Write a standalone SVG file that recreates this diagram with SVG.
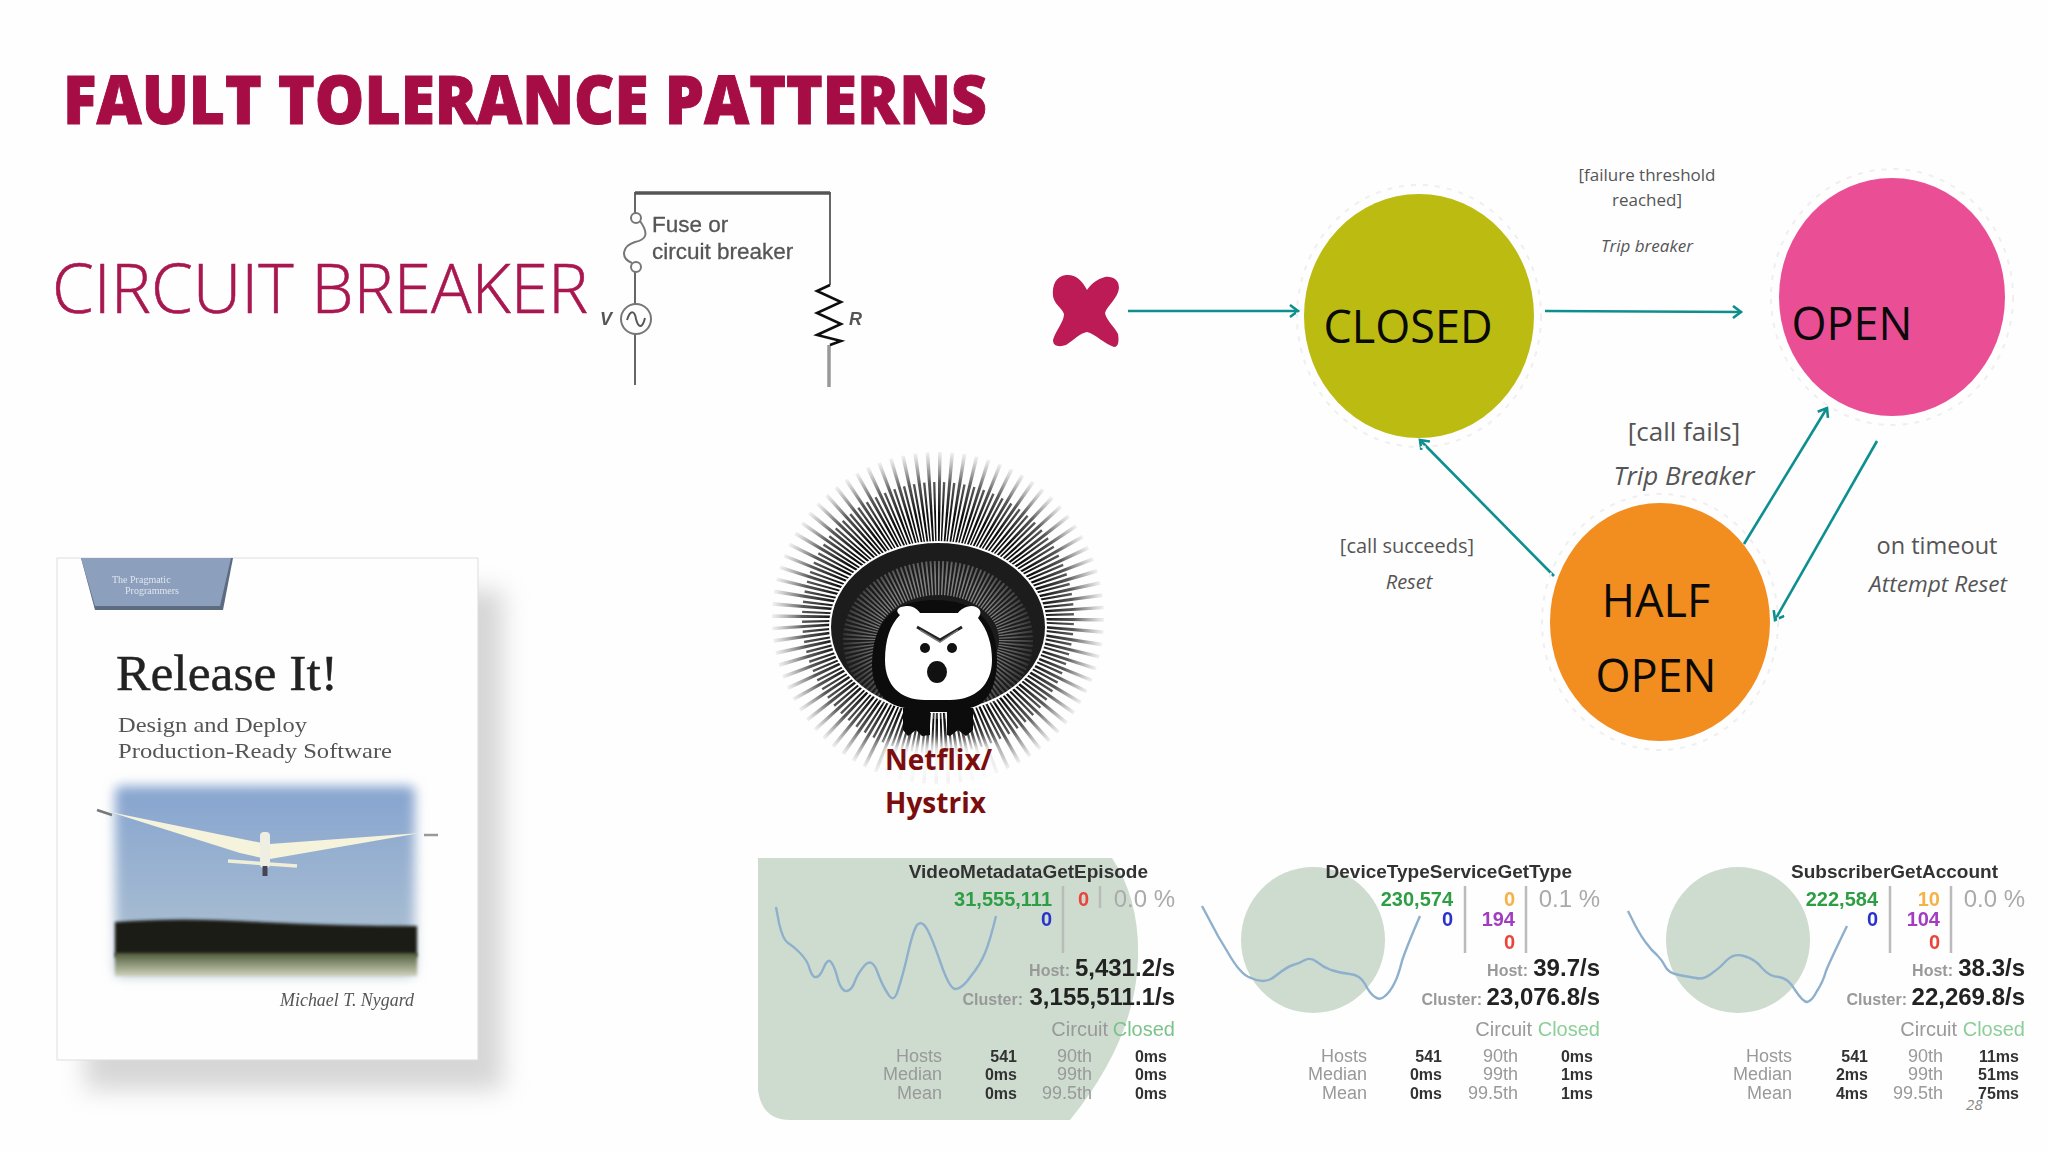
<svg xmlns="http://www.w3.org/2000/svg" width="2048" height="1152" viewBox="0 0 2048 1152">
<style>
text{font-family:"Open Sans","Noto Sans",sans-serif}
.lbl{fill:#555;text-anchor:middle}
.it{font-style:italic}
.st{fill:#0a0a0a;font-size:45px;text-anchor:middle}
.halo{fill:none;stroke:#efefef;stroke-width:2;stroke-dasharray:5 7}
.conn{fill:none;stroke:#0e8f8f;stroke-width:2.6;marker-end:url(#arr)}
.dash text{font-family:"Liberation Sans",Arial,sans-serif;text-anchor:end}
.t{font-size:19px;font-weight:700;fill:#333}
.n{font-size:20px;font-weight:700}
.pct{font-size:24px;fill:#aaa}
.k{font-size:16px;font-weight:700;fill:#999}
.v{font-size:24px;font-weight:700;fill:#222}
.c{font-size:20px;fill:#999}
.h{font-size:18px;fill:#999}
.b{font-size:16px;font-weight:700;fill:#333}
.bar{stroke:#bbb;stroke-width:2.5}
.spark{fill:none;stroke:#8fb0cc;stroke-width:2.4;stroke-linejoin:round}
.book text{font-family:"Liberation Serif","Times New Roman",serif}
.cir{font-family:"Liberation Sans",sans-serif}
</style>
<defs>
<marker id="arr" markerUnits="userSpaceOnUse" markerWidth="16" markerHeight="16" refX="11" refY="7" orient="auto"><path d="M3,1 L11,7 L3,13" fill="none" stroke="#0e8f8f" stroke-width="2.6"/></marker>
<filter id="b05" x="-5%" y="-5%" width="110%" height="110%"><feGaussianBlur stdDeviation="0.7"/></filter>
<filter id="b1" x="-5%" y="-20%" width="110%" height="140%"><feGaussianBlur stdDeviation="1.6"/></filter>
<filter id="b7" x="-10%" y="-10%" width="120%" height="120%"><feGaussianBlur stdDeviation="6"/></filter>
<filter id="b12" x="-15%" y="-15%" width="130%" height="130%"><feGaussianBlur stdDeviation="12"/></filter>
<filter id="bw" x="-30%" y="-60%" width="160%" height="220%"><feGaussianBlur stdDeviation="6"/></filter>
<filter id="bh" filterUnits="userSpaceOnUse" x="740" y="420" width="400" height="400"><feGaussianBlur stdDeviation="0.45"/></filter>
<linearGradient id="sky" x1="0" y1="0" x2="0" y2="1"><stop offset="0" stop-color="#86a4cf"/><stop offset="1" stop-color="#b2c4d2"/></linearGradient>
<linearGradient id="grass" x1="0" y1="0" x2="0" y2="1"><stop offset="0" stop-color="#4f5a3a"/><stop offset="1" stop-color="#cdd2ba"/></linearGradient>
<radialGradient id="spk" gradientUnits="userSpaceOnUse" cx="938" cy="618" r="170"><stop offset="0.62" stop-color="#111"/><stop offset="0.8" stop-color="#333" stop-opacity=".8"/><stop offset="1" stop-color="#777" stop-opacity="0"/></radialGradient>
<radialGradient id="inner" gradientUnits="userSpaceOnUse" cx="938" cy="635" r="105"><stop offset="0.55" stop-color="#fff" stop-opacity=".45"/><stop offset="1" stop-color="#fff" stop-opacity="0"/></radialGradient>
</defs>
<rect width="2048" height="1152" fill="#fefefe"/>

<text id="title" x="63" y="124" font-size="68" font-weight="800" fill="#a60d45" stroke="#a60d45" stroke-width="1" textLength="924" lengthAdjust="spacingAndGlyphs">FAULT TOLERANCE PATTERNS</text>
<text id="subtitle" x="52" y="313" font-size="69" font-weight="300" fill="#a8174f" stroke="#a8174f" stroke-width=".6" textLength="536" lengthAdjust="spacingAndGlyphs">CIRCUIT BREAKER</text>

<g id="circuit" filter="url(#b05)">
<path d="M635,385 V334 M635,304 V272 M635,213 V193 H830 V285" fill="none" stroke="#666" stroke-width="2"/>
<path d="M635,193 H830" fill="none" stroke="#555" stroke-width="3.5"/>
<path d="M829,345 V387" fill="none" stroke="#999" stroke-width="3.5"/>
<circle cx="636" cy="218" r="5" fill="none" stroke="#777" stroke-width="2"/>
<circle cx="636" cy="267" r="5" fill="none" stroke="#777" stroke-width="2"/>
<path d="M640,221 C650,235 645,240 635,242 C622,246 620,258 632,263" fill="none" stroke="#777" stroke-width="2"/>
<ellipse cx="636" cy="319" rx="15" ry="15" fill="none" stroke="#777" stroke-width="2"/>
<path d="M627,320 C631,308 635,312 636,319 C638,327 642,330 645,318" fill="none" stroke="#555" stroke-width="2"/>
<path d="M830,285 L817,291 L841,302 L817,313 L841,324 L817,335 L841,341 L830,345" fill="none" stroke="#111" stroke-width="2.6"/>
<text class="cir" x="652" y="232" font-size="22.5" fill="#555" stroke="#555" stroke-width=".3">Fuse or</text>
<text class="cir" x="652" y="259" font-size="22.5" fill="#555" stroke="#555" stroke-width=".3">circuit breaker</text>
<text class="cir" x="600" y="325" font-size="18" fill="#555" font-style="italic" font-weight="700">V</text>
<text class="cir" x="849" y="325" font-size="18" fill="#555" font-style="italic" font-weight="700">R</text>
</g>

<path id="break-mark" fill="#bc1b55" d="M1087,290 C1082,280 1075,274 1066,275 C1056,276 1052,285 1053,296 C1054,304 1062,308 1064,314 C1064,322 1056,330 1053,340 C1053,347 1060,347 1066,345 C1074,340 1080,333 1087,332 C1095,334 1105,344 1114,347 C1119,347 1119,340 1118,334 C1114,326 1106,320 1105,313 C1107,306 1118,298 1119,288 C1119,279 1112,276 1105,277 C1097,279 1091,284 1087,290 Z"/>

<g id="connectors">
<path class="conn" d="M1128,311 H1298"/>
<path class="conn" d="M1545,311 L1741,312"/>
<path class="conn" d="M1744,544 L1827,408"/>
<path class="conn" d="M1877,441 L1775,620"/>
<path class="conn" d="M1554,576 L1420,440"/>
</g>

<g id="closed">
<ellipse class="halo" cx="1419" cy="316" rx="122" ry="131"/>
<ellipse cx="1419" cy="316" rx="115" ry="122" fill="#bcbb12"/>
<text class="st" x="1408" y="343">CLOSED</text>
</g>
<g id="open">
<ellipse class="halo" cx="1892" cy="297" rx="121" ry="128"/>
<ellipse cx="1892" cy="297" rx="113" ry="119" fill="#ea4f96"/>
<text class="st" x="1852" y="340">OPEN</text>
</g>
<g id="half-open">
<ellipse class="halo" cx="1660" cy="622" rx="118" ry="128"/>
<ellipse cx="1660" cy="622" rx="110" ry="119" fill="#f28d1f"/>
<text class="st" x="1656" y="617">HALF</text>
<text class="st" x="1656" y="692">OPEN</text>
</g>

<g id="labels">
<text class="lbl" x="1647" y="181" font-size="17">[failure threshold</text>
<text class="lbl" x="1647" y="206" font-size="17">reached]</text>
<text class="lbl it" x="1647" y="252" font-size="17">Trip breaker</text>
<text class="lbl" x="1684" y="441" font-size="26">[call fails]</text>
<text class="lbl it" x="1684" y="485" font-size="26">Trip Breaker</text>
<text class="lbl" x="1407" y="553" font-size="20">[call succeeds]</text>
<text class="lbl it" x="1409" y="589" font-size="20">Reset</text>
<text class="lbl" x="1937" y="554" font-size="23.5">on timeout</text>
<text class="lbl it" x="1938" y="592" font-size="22.7">Attempt Reset</text>
</g>

<g id="book" class="book">
<rect x="85" y="590" width="418" height="500" fill="#bbb" opacity=".6" filter="url(#b12)"/>
<rect x="57" y="558" width="421" height="502" fill="#fefefe" stroke="#ddd" stroke-width="1"/>
<path d="M81,558 H233 L223,610 H95 Z" fill="#5c6b80"/>
<path d="M81,558 H231 L220,606 H95 Z" fill="#8c9fbc" filter="url(#b05)"/>
<g filter="url(#b05)" fill="#dfe5ee">
<text x="112" y="583" font-size="10">The Pragmatic</text>
<text x="125" y="594" font-size="10">Programmers</text>
</g>
<g filter="url(#b05)">
<text x="116" y="690" font-size="51" fill="#222" stroke="#222" stroke-width=".4" textLength="222" lengthAdjust="spacingAndGlyphs">Release It!</text>
<text x="118" y="732" font-size="22" fill="#555" textLength="189" lengthAdjust="spacingAndGlyphs">Design and Deploy</text>
<text x="118" y="758" font-size="22" fill="#555" textLength="274" lengthAdjust="spacingAndGlyphs">Production-Ready Software</text>
<text x="280" y="1006" font-size="18" font-style="italic" fill="#555" textLength="134" lengthAdjust="spacingAndGlyphs">Michael T. Nygard</text>
</g>
<g id="photo">
<rect x="115" y="786" width="300" height="190" rx="6" fill="url(#sky)" filter="url(#b7)"/>
<path d="M115,922 Q180,917 260,922 Q340,926 417,926 V957 H115 Z" fill="#1b1e18" filter="url(#b1)"/>
<rect x="115" y="953" width="302" height="23" fill="url(#grass)" filter="url(#b1)"/>
<g filter="url(#b05)">
<path d="M110,812 L262,843 L262,858 L240,853 Z" fill="#f5f3dc"/>
<path d="M270,844 L420,833 L270,859 Z" fill="#f5f3dc"/>
<path d="M97,810 L112,815" stroke="#777" stroke-width="2.5"/>
<path d="M424,835 L438,835" stroke="#999" stroke-width="2.5"/>
<path d="M228,861 L297,866" stroke="#f0eed8" stroke-width="3.5"/>
<rect x="260" y="832" width="10" height="36" rx="4" fill="#efeee2"/>
<path d="M265,866 V876" stroke="#445" stroke-width="5"/>
</g>
</g>
</g>

<g id="hystrix">
<g filter="url(#bh)">
<circle cx="938" cy="618" r="120" fill="none" stroke="url(#spk)" stroke-width="92" pathLength="84" stroke-dasharray=".3 .7"/>
<circle cx="938" cy="618" r="105" fill="none" stroke="url(#spk)" stroke-width="62" pathLength="84" stroke-dasharray=".24 .76" stroke-dashoffset=".5"/>
</g>
<rect x="880" y="742" width="118" height="40" fill="#fefefe" opacity=".92" filter="url(#bw)"/>
<g filter="url(#bh)">
<ellipse cx="938" cy="627" rx="108" ry="85" fill="#1e1e1e" stroke="#fff" stroke-width="2"/>
<ellipse cx="938" cy="640" rx="78" ry="62" fill="none" stroke="url(#inner)" stroke-width="34" pathLength="120" stroke-dasharray=".45 .55"/>
</g>
<path d="M872,665 C872,620 895,600 935,600 C975,600 997,620 997,660 C997,690 985,705 970,708 H905 C885,705 872,690 872,665 Z" fill="#0c0c0c"/>
<path d="M903,708 H973 L973,730 L966,736 L958,730 L950,736 L947,735 V712 H930 V735 L922,736 L916,730 L908,736 L903,730 Z" fill="#0c0c0c"/>
<path d="M900,615 C894,610 899,606 908,606 C914,606 918,610 920,613 H958 C960,610 965,606 972,606 C980,607 983,612 978,618 C988,630 992,645 992,660 C992,685 975,700 950,700 H925 C900,700 885,685 885,660 C885,640 890,625 900,615 Z" fill="#fff"/>
<path d="M917,627 L940,640 L962,627" fill="none" stroke="#222" stroke-width="3"/>
<path d="M920,630 L940,642 L958,630" fill="none" stroke="#777" stroke-width="1.5"/>
<circle cx="925" cy="648" r="5" fill="#111"/>
<circle cx="952" cy="648" r="5" fill="#111"/>
<ellipse cx="937" cy="672" rx="10" ry="11" fill="#111"/>
<g font-size="28" font-weight="700" fill="#7b0d0d">
<text x="885" y="770">Netflix/</text>
<text x="885" y="813">Hystrix</text>
</g>
</g>

<g id="dash-1" class="dash">
<path d="M758,858 L1112,858 Q1140,900 1138,960 Q1135,1040 1070,1120 L790,1120 Q762,1120 758,1090 Z" fill="#cddccf"/>
<g filter="url(#b05)">
<path class="spark" d="M776,907 L779,923 Q783,940 788,943 Q793,946 800,953 Q808,961 810,970 Q813,978 816,977 Q820,977 824,967 Q828,958 831,962 Q835,967 838,980 Q842,992 847,991 Q852,990 855,981 Q858,973 865,965 Q872,958 877,971 Q882,985 888,994 Q894,1004 898,990 Q903,975 908,953 Q913,931 917,925 Q922,920 927,929 Q932,938 941,964 Q950,990 956,989 Q963,988 971,976 Q980,965 985,953 Q990,941 996,916"/>
<text class="t" x="1148" y="878">VideoMetadataGetEpisode</text>
<text class="n" x="1052" y="906" fill="#2f9e44">31,555,111</text>
<text class="n" x="1052" y="926" fill="#2c33cc" font-size="16">0</text>
<line class="bar" x1="1063" y1="886" x2="1063" y2="953"/>
<text class="n" x="1089" y="906" fill="#e8453c">0</text>
<line class="bar" x1="1100" y1="886" x2="1100" y2="908"/>
<text class="pct" x="1175" y="907">0.0 %</text>
<text class="k" x="1070" y="976">Host:</text><text class="v" x="1175" y="976">5,431.2/s</text>
<text class="k" x="1023" y="1005">Cluster:</text><text class="v" x="1175" y="1005">3,155,511.1/s</text>
<text class="c" x="1108" y="1036">Circuit</text><text class="c" x="1175" y="1036" style="fill:#7cc38a">Closed</text>
<text class="h" x="942" y="1062">Hosts</text><text class="h" x="942" y="1080">Median</text><text class="h" x="942" y="1099">Mean</text>
<text class="b" x="1017" y="1062">541</text><text class="b" x="1017" y="1080">0ms</text><text class="b" x="1017" y="1099">0ms</text>
<text class="h" x="1092" y="1062">90th</text><text class="h" x="1092" y="1080">99th</text><text class="h" x="1092" y="1099">99.5th</text>
<text class="b" x="1167" y="1062">0ms</text><text class="b" x="1167" y="1080">0ms</text><text class="b" x="1167" y="1099">0ms</text>
</g>
</g>

<g id="dash-2" class="dash">
<ellipse cx="1313" cy="940" rx="72" ry="73" fill="#cddccf"/>
<g filter="url(#b05)">
<path class="spark" d="M1202,906 L1218,936 L1227,951 Q1235,965 1240,970 Q1245,976 1251,978 Q1257,981 1263,981 Q1270,981 1278,974 Q1287,967 1293,965 Q1300,963 1305,960 Q1311,957 1317,962 Q1323,967 1331,970 Q1340,973 1350,974 Q1360,975 1365,984 Q1370,994 1375,997 Q1380,1001 1385,996 Q1390,992 1394,984 Q1398,977 1402,961 Q1407,946 1420,916"/>
<text class="t" x="1572" y="878">DeviceTypeServiceGetType</text>
<text class="n" x="1453" y="906" fill="#2f9e44">230,574</text>
<text class="n" x="1453" y="926" fill="#2c33cc" font-size="16">0</text>
<line class="bar" x1="1465" y1="886" x2="1465" y2="953"/>
<text class="n" x="1515" y="906" fill="#f4b24a">0</text>
<text class="n" x="1515" y="926" fill="#a23cc0" font-size="16">194</text>
<text class="n" x="1515" y="949" fill="#e8453c" font-size="16">0</text>
<line class="bar" x1="1526" y1="886" x2="1526" y2="953"/>
<text class="pct" x="1600" y="907">0.1 %</text>
<text class="k" x="1528" y="976">Host:</text><text class="v" x="1600" y="976">39.7/s</text>
<text class="k" x="1482" y="1005">Cluster:</text><text class="v" x="1600" y="1005">23,076.8/s</text>
<text class="c" x="1532" y="1036">Circuit</text><text class="c" x="1600" y="1036" style="fill:#8ccf98">Closed</text>
<text class="h" x="1367" y="1062">Hosts</text><text class="h" x="1367" y="1080">Median</text><text class="h" x="1367" y="1099">Mean</text>
<text class="b" x="1442" y="1062">541</text><text class="b" x="1442" y="1080">0ms</text><text class="b" x="1442" y="1099">0ms</text>
<text class="h" x="1518" y="1062">90th</text><text class="h" x="1518" y="1080">99th</text><text class="h" x="1518" y="1099">99.5th</text>
<text class="b" x="1593" y="1062">0ms</text><text class="b" x="1593" y="1080">1ms</text><text class="b" x="1593" y="1099">1ms</text>
</g>
</g>

<g id="dash-3" class="dash">
<ellipse cx="1738" cy="940" rx="72" ry="73" fill="#cddccf"/>
<g filter="url(#b05)">
<path class="spark" d="M1628,911 L1635,925 Q1642,938 1647,944 Q1652,951 1657,955 Q1662,960 1665,966 Q1668,973 1679,975 Q1690,977 1696,978 Q1703,980 1711,974 Q1720,968 1727,960 Q1734,953 1744,956 Q1755,959 1762,968 Q1770,977 1779,977 Q1788,978 1795,990 Q1803,1002 1807,1002 Q1812,1001 1817,991 Q1823,982 1826,971 Q1830,961 1847,926"/>
<text class="t" x="1998" y="878">SubscriberGetAccount</text>
<text class="n" x="1878" y="906" fill="#2f9e44">222,584</text>
<text class="n" x="1878" y="926" fill="#2c33cc" font-size="16">0</text>
<line class="bar" x1="1890" y1="886" x2="1890" y2="953"/>
<text class="n" x="1940" y="906" fill="#f4b24a">10</text>
<text class="n" x="1940" y="926" fill="#a23cc0" font-size="16">104</text>
<text class="n" x="1940" y="949" fill="#e8453c" font-size="16">0</text>
<line class="bar" x1="1951" y1="886" x2="1951" y2="953"/>
<text class="pct" x="2025" y="907">0.0 %</text>
<text class="k" x="1953" y="976">Host:</text><text class="v" x="2025" y="976">38.3/s</text>
<text class="k" x="1907" y="1005">Cluster:</text><text class="v" x="2025" y="1005">22,269.8/s</text>
<text class="c" x="1957" y="1036">Circuit</text><text class="c" x="2025" y="1036" style="fill:#8ccf98">Closed</text>
<text class="h" x="1792" y="1062">Hosts</text><text class="h" x="1792" y="1080">Median</text><text class="h" x="1792" y="1099">Mean</text>
<text class="b" x="1868" y="1062">541</text><text class="b" x="1868" y="1080">2ms</text><text class="b" x="1868" y="1099">4ms</text>
<text class="h" x="1943" y="1062">90th</text><text class="h" x="1943" y="1080">99th</text><text class="h" x="1943" y="1099">99.5th</text>
<text class="b" x="2019" y="1062">11ms</text><text class="b" x="2019" y="1080">51ms</text><text class="b" x="2019" y="1099">75ms</text>
</g>
</g>

<text id="page" x="1966" y="1110" font-size="15" font-style="italic" fill="#888">28</text>
</svg>
